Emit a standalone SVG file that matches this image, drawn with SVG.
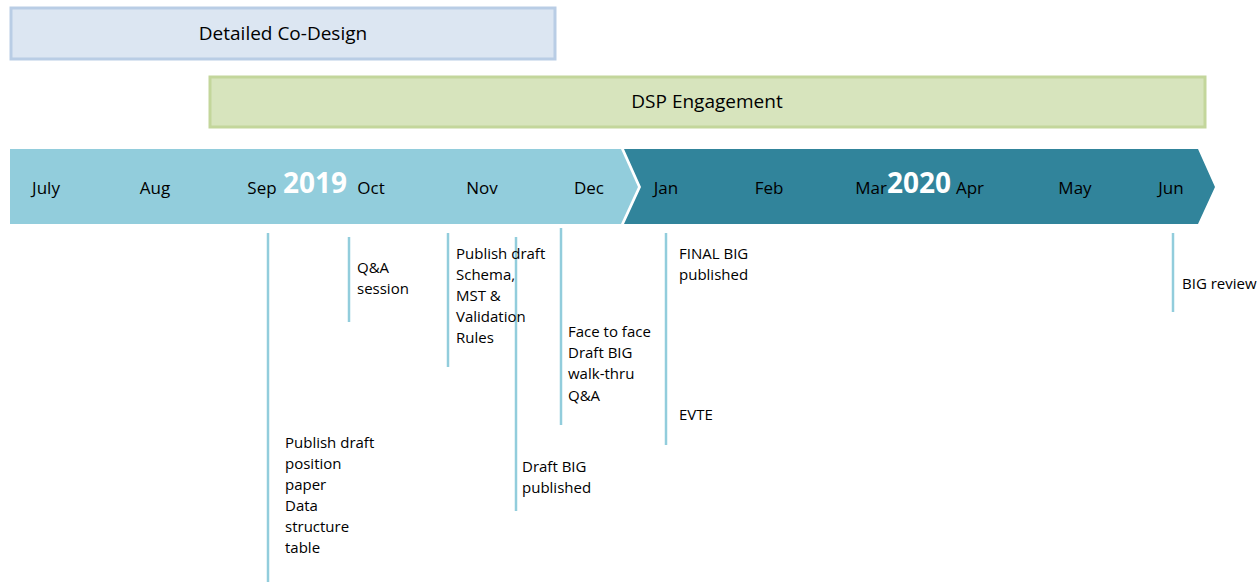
<svg xmlns="http://www.w3.org/2000/svg" width="1258" height="583" viewBox="0 0 1258 583">
<style>
text{font-family:"Open Sans","Liberation Sans",sans-serif;fill:#000}
.m{font-size:17px;text-anchor:middle}
.l{font-size:15px}
.yr{font-size:28px;font-weight:bold;fill:#fff;text-anchor:middle}
.bar{font-size:19px;text-anchor:middle}
.tick{stroke:#92cddc;stroke-width:2.5;fill:none}
</style>
<rect x="0" y="0" width="1258" height="583" fill="#fff"/>
<g id="codesign">
<rect x="11" y="8" width="544" height="51" fill="#dce6f2" stroke="#b9cde5" stroke-width="3"/>
<text class="bar" x="283" y="40">Detailed Co-Design</text>
</g>
<g id="dsp">
<rect x="210" y="77" width="995" height="50" fill="#d7e4bd" stroke="#c3d69b" stroke-width="3"/>
<text class="bar" x="707" y="108">DSP Engagement</text>
</g>
<g id="band2019">
<polygon points="10,149 621,149 638,187 621,224 10,224" fill="#92cddc"/>
</g>
<g id="band2020">
<polygon points="624,149 1198,149 1215,187 1198,224 624,224 641,187" fill="#31849b"/>
</g>
<g id="months">
<text class="m" x="46" y="194">July</text>
<text class="m" x="155" y="194">Aug</text>
<text class="m" x="262" y="194">Sep</text>
<text class="m" x="371" y="194">Oct</text>
<text class="m" x="482" y="194">Nov</text>
<text class="m" x="589" y="194">Dec</text>
<text class="m" x="666" y="194">Jan</text>
<text class="m" x="769" y="194">Feb</text>
<text class="m" x="871" y="194">Mar</text>
<text class="m" x="970" y="194">Apr</text>
<text class="m" x="1075" y="194">May</text>
<text class="m" x="1171" y="194">Jun</text>
<text class="yr" x="315" y="193">2019</text>
<text class="yr" x="919" y="193">2020</text>
</g>
<g id="connectors">
<line class="tick" x1="268" y1="233" x2="268" y2="582"/>
<line class="tick" x1="349" y1="237" x2="349" y2="322"/>
<line class="tick" x1="448" y1="233" x2="448" y2="367"/>
<line class="tick" x1="516" y1="237" x2="516" y2="511"/>
<line class="tick" x1="561" y1="228" x2="561" y2="425"/>
<line class="tick" x1="666" y1="233" x2="666" y2="445"/>
<line class="tick" x1="1173" y1="233" x2="1173" y2="312"/>
</g>
<g id="ev-position">
<text class="l" x="285" y="448">Publish draft</text>
<text class="l" x="285" y="469">position</text>
<text class="l" x="285" y="490">paper</text>
<text class="l" x="285" y="511">Data</text>
<text class="l" x="285" y="532">structure</text>
<text class="l" x="285" y="553">table</text>
</g>
<g id="ev-qa">
<text class="l" x="357" y="273">Q&amp;A</text>
<text class="l" x="357" y="294">session</text>
</g>
<g id="ev-schema">
<text class="l" x="456" y="259">Publish draft</text>
<text class="l" x="456" y="280">Schema,</text>
<text class="l" x="456" y="301">MST &amp;</text>
<text class="l" x="456" y="322">Validation</text>
<text class="l" x="456" y="343">Rules</text>
</g>
<g id="ev-draftbig">
<text class="l" x="522" y="472">Draft BIG</text>
<text class="l" x="522" y="493">published</text>
</g>
<g id="ev-f2f">
<text class="l" x="568" y="337">Face to face</text>
<text class="l" x="568" y="358">Draft BIG</text>
<text class="l" x="568" y="379">walk-thru</text>
<text class="l" x="568" y="401">Q&amp;A</text>
</g>
<g id="ev-final">
<text class="l" x="679" y="259">FINAL BIG</text>
<text class="l" x="679" y="280">published</text>
</g>
<g id="ev-evte">
<text class="l" x="679" y="420">EVTE</text>
</g>
<g id="ev-review">
<text class="l" x="1182" y="289">BIG review</text>
</g>
</svg>
